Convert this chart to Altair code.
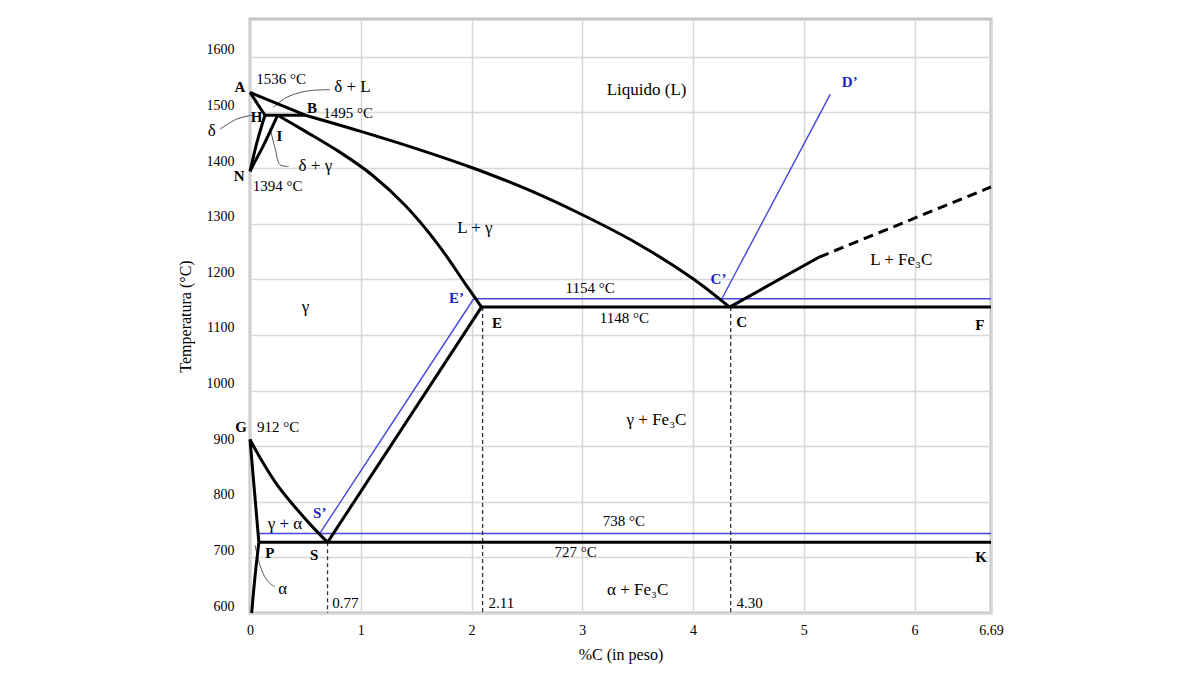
import altair as alt
import pandas as pd

# ---------------- data (x = %C in weight, T = temperature in °C) ----------------
x_ticks = [0, 1, 2, 3, 4, 5, 6, 6.69]
y_ticks = [600, 700, 800, 900, 1000, 1100, 1200, 1300, 1400, 1500, 1600]

# black straight segments
seg_AH = ([0, 0.135], [1536, 1495])
seg_HB = ([0.135, 0.50], [1495, 1495])
seg_GP = ([0, 0.08], [912, 727])
seg_ES = ([2.09, 0.70], [1150, 727])
seg_ECF = ([2.09, 6.69], [1150, 1150])
seg_PSK = ([0.08, 6.69], [727, 727])
seg_C_up = ([4.33, 5.14], [1150, 1240])
seg_AB = ([0, 0.5], [1536, 1495])

# black curves
liquidus = ([0.5, 1.0, 1.5, 2.0, 2.5, 3.0, 3.5, 4.0, 4.33],
            [1495, 1466, 1435, 1401, 1362, 1316, 1264, 1201, 1150])
solidus_gamma = ([0.25, 0.5, 0.8, 1.1, 1.4, 1.7, 1.95, 2.09],
                 [1495, 1466, 1430, 1388, 1333, 1262, 1190, 1150])
curve_GS = ([0, 0.1, 0.25, 0.4, 0.55, 0.70], [912, 876, 829, 792, 758, 727])
curve_HN = ([0.135, 0.065, 0], [1495, 1448, 1394])
curve_JN = ([0.25, 0.12, 0.04, 0], [1495, 1440, 1410, 1394])
curve_P_bottom = ([0.08, 0.045, 0.015], [727, 665, 600])

# black dashed extension of the Fe3C liquidus
dashed_CD = ([5.14, 6.69], [1240, 1366])

# blue (stable Fe-graphite) lines
blue_738 = ([0.07, 6.69], [743, 743])
blue_1154 = ([2.02, 6.69], [1165, 1165])
blue_SE = ([0.63, 2.02], [743, 1165])
blue_CD = ([4.26, 5.24], [1165, 1533])

# dashed verticals at S, E, C
vdash_S = ([0.70, 0.70], [727, 600])
vdash_E = ([2.10, 2.10], [1150, 600])
vdash_C = ([4.34, 4.34], [1150, 600])

# leader lines for labels
lead_dL = ([0.21, 0.33, 0.50, 0.72], [1509, 1527, 1538, 1541])
lead_d = ([-0.27, -0.12, 0.045], [1470, 1488, 1496])
lead_dg = ([0.18, 0.23, 0.27, 0.35], [1472, 1433, 1406, 1403])
lead_a = ([0.045, 0.105, 0.165, 0.225], [722, 677, 656, 647])

# labels
region_text = ["Liquido (L)", "L + γ", "L + Fe₃C", "γ", "γ + Fe₃C", "γ + α", "α",
               "α + Fe₃C", "δ + L", "δ", "δ + γ"]
region_x = [3.58, 2.03, 5.88, 0.50, 3.67, 0.315, 0.295, 3.50, 0.925, -0.345, 0.59]
region_t = [1541, 1292, 1235, 1150, 947, 760, 643, 641, 1545, 1466, 1404]

temp_text = ["1536 °C", "1495 °C", "1394 °C", "1154 °C", "1148 °C", "912 °C",
             "738 °C", "727 °C", "0.77", "2.11", "4.30"]
temp_x = [0.28, 0.885, 0.25, 3.07, 3.38, 0.255, 3.375, 2.94, 0.86, 2.27, 4.51]
temp_t = [1560, 1499, 1368, 1184, 1130, 935, 765, 710, 618, 618, 618]

point_text = ["A", "B", "H", "I", "N", "E", "C", "F", "G", "P", "S", "K"]
point_x = [-0.09, 0.56, 0.06, 0.265, -0.097, 2.23, 4.44, 6.59, -0.08, 0.18, 0.58, 6.60]
point_t = [1546, 1508, 1492, 1457, 1385, 1121, 1124, 1118, 935, 708, 704, 701]

blue_text = ["D’", "E’", "C’", "S’"]
blue_x = [5.415, 1.865, 4.23, 0.63]
blue_t = [1554, 1166, 1201, 779]


def lines_df(segs):
    rows = []
    for name, (xs, ts) in segs.items():
        for i, (x, t) in enumerate(zip(xs, ts)):
            rows.append({"seg": name, "i": i, "x": x, "T": t})
    return pd.DataFrame(rows)


black_straight = lines_df({"AH": seg_AH, "HB": seg_HB, "GP": seg_GP, "ES": seg_ES,
                           "ECF": seg_ECF, "PSK": seg_PSK, "Cup": seg_C_up, "AB": seg_AB})
black_curves = lines_df({"liq": liquidus, "sol": solidus_gamma, "GS": curve_GS,
                         "HN": curve_HN, "JN": curve_JN, "Pb": curve_P_bottom})
black_dashed = lines_df({"CD": dashed_CD})
blue_lines = lines_df({"b738": blue_738, "b1154": blue_1154, "bSE": blue_SE, "bCD": blue_CD})
vdash = lines_df({"vS": vdash_S, "vE": vdash_E, "vC": vdash_C})
leaders = lines_df({"l1": lead_dL, "l2": lead_d, "l3": lead_dg, "l4": lead_a})

regions = pd.DataFrame({"x": region_x, "T": region_t, "label": region_text})
temps = pd.DataFrame({"x": temp_x, "T": temp_t, "label": temp_text})
points = pd.DataFrame({"x": point_x, "T": point_t, "label": point_text})
blues = pd.DataFrame({"x": blue_x, "T": blue_t, "label": blue_text})

FONT = "Liberation Serif"

xenc = alt.X("x:Q", title="%C (in peso)",
             scale=alt.Scale(domain=[0, 6.69], nice=False, zero=False),
             axis=alt.Axis(values=x_ticks, grid=True, ticks=False, domain=False,
                           labelExpr="datum.value == 6.69 ? '6.69' : format(datum.value, 'd')",
                           labelFlush=False, labelOverlap=False, labelPadding=10,
                           titlePadding=9))
yenc = alt.Y("T:Q", title="Temperatura (°C)",
             scale=alt.Scale(domain=[600, 1668], nice=False, zero=False),
             axis=alt.Axis(values=y_ticks, format="d", grid=True, ticks=False, domain=False,
                           labelOffset=-7, labelPadding=16, labelFlush=False,
                           labelOverlap=False, titlePadding=13))


def line_layer(df, **mark):
    return alt.Chart(df).mark_line(**mark).encode(
        x=xenc, y=yenc, detail="seg:N", order=alt.Order("i:Q"))


def text_layer(df, **mark):
    return alt.Chart(df).mark_text(font=FONT, align="center", baseline="middle", **mark).encode(
        x=xenc, y=yenc, text="label:N")


layers = [
    line_layer(blue_lines, color="#4646e0", strokeWidth=1.4),
    line_layer(vdash, color="#333333", strokeWidth=1.3, strokeDash=[4, 3]),
    line_layer(leaders, color="#555555", strokeWidth=1, interpolate="catmull-rom"),
    line_layer(black_straight, color="black", strokeWidth=3),
    line_layer(black_curves, color="black", strokeWidth=3, interpolate="catmull-rom"),
    line_layer(black_dashed, color="black", strokeWidth=3, strokeDash=[10, 6]),
    text_layer(regions, fontSize=17, color="black"),
    text_layer(temps, fontSize=15, color="black"),
    text_layer(points, fontSize=15, fontWeight="bold", color="black"),
    text_layer(blues, fontSize=15, fontWeight="bold", color="#1f1fc8"),
]

chart = alt.layer(*layers).properties(
    width=741, height=594,
    padding={"left": 250, "top": 19, "right": 209, "bottom": 62},
    autosize=alt.AutoSizeParams(type="none"),
    background="white",
).configure_view(
    stroke="#c4c4c4", strokeWidth=3
).configure_axis(
    gridColor="#d8d8d8", gridWidth=1.5,
    labelFont=FONT, labelFontSize=14, labelColor="black",
    titleFont=FONT, titleFontSize=16, titleFontWeight="normal", titleColor="black",
)

chart.save("out.html", embed_options={"renderer": "svg", "actions": False})
